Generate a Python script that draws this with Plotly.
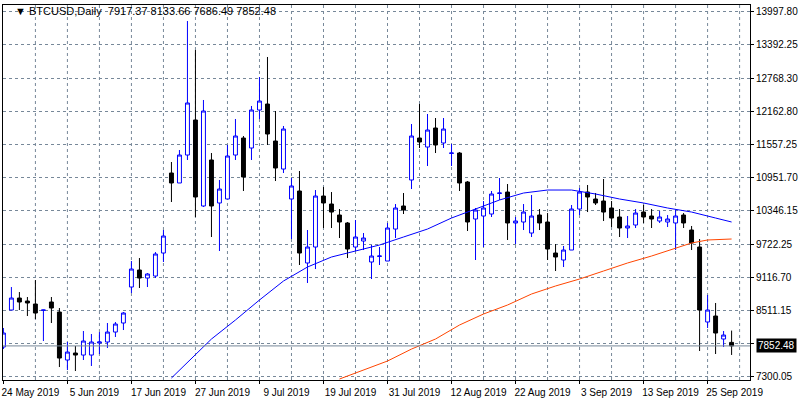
import plotly.graph_objects as go

# daily BTCUSD bars (weekdays only)
bar_idx = list(range(92))
opens = [7832, 8511, 8731, 8676, 8621, 8505, 8658, 8474, 7594, 7722,
         7685, 7685, 7906, 7924, 8107, 8273, 8933, 9245, 9098, 9135,
         9557, 11025, 10842, 11355, 11998, 10420, 11264, 10475, 10548, 11355,
         11667, 11484, 12181, 12291, 11612, 11098, 10548, 10695, 9374, 9667,
         10603, 10456, 10254, 10108, 9667, 9777, 9392, 9495, 9410, 9997,
         10420, 10897, 11667, 11502, 11851, 11576, 11385, 11392, 10860, 10181,
         10236, 10273, 10650, 10676, 10108, 10126, 9924, 10254, 10126, 9557,
         9429, 9612, 10364, 10676, 10548, 10511, 10383, 10218, 10016, 10071,
         10309, 10236, 10144, 10126, 10108, 10254, 9979, 9667, 8291, 8401,
         7979, 7917.37]
highs = [8181, 8933, 8841, 8750, 9062, 8515, 8750, 8548, 7924, 7851,
         8126, 8071, 8107, 8273, 8291, 8474, 9410, 9465, 9190, 9575,
         9979, 11227, 11447, 13814, 13282, 12365, 11392, 10897, 11539, 12016,
         11704, 12255, 12787, 13154, 12163, 11888, 10933, 11062, 9979, 10713,
         10768, 10676, 10364, 10126, 10163, 9924, 9704, 9667, 10108, 10456,
         10658, 11924, 12291, 12108, 12034, 12034, 11557, 11410, 10878, 10383,
         10511, 10695, 10933, 10823, 10218, 10456, 10621, 10364, 10291, 9722,
         9686, 10438, 10750, 10805, 10658, 10915, 10511, 10364, 10236, 10364,
         10438, 10364, 10328, 10254, 10346, 10291, 10053, 9814, 8786, 8640,
         8126, 8133.66]
lows = [7795, 8511, 8511, 8401, 8346, 7942, 8273, 7465, 7410, 7392,
        7594, 7484, 7704, 7814, 8016, 8144, 8823, 8915, 8933, 9098,
        9392, 10493, 10842, 11264, 10218, 10401, 9851, 9594, 10548, 11264,
        10695, 11264, 12016, 11539, 10878, 11025, 9814, 9337, 9007, 9263,
        10016, 10016, 9832, 9465, 9594, 9612, 9080, 9337, 9410, 9832,
        10273, 10731, 11484, 11154, 11392, 11484, 11154, 10695, 9961, 9429,
        9667, 10218, 10530, 9796, 9722, 9979, 9851, 9979, 9429, 9227,
        9300, 9612, 10254, 10309, 10438, 10144, 10034, 9851, 9832, 10016,
        10108, 10016, 10108, 10034, 9612, 10016, 9612, 7759, 8181, 7704,
        7832, 7686.49]
closes = [8089, 8731, 8658, 8640, 8456, 8511, 8548, 7630, 7740, 7685,
          7942, 7924, 7924, 8107, 8254, 8456, 9263, 9098, 9172, 9539,
          9869, 10842, 11355, 12310, 10585, 12163, 10420, 10731, 11337, 11704,
          10952, 12181, 12346, 11741, 11117, 11832, 10787, 9557, 9667, 10603,
          10475, 10309, 10126, 9630, 9851, 9832, 9502, 9502, 10016, 10383,
          10346, 11704, 11594, 11814, 11539, 11832, 11392, 10842, 10126, 10346,
          10383, 10640, 10658, 10108, 10144, 10309, 10236, 10108, 9630, 9484,
          9612, 10364, 10676, 10585, 10475, 10309, 10199, 10016, 10053, 10291,
          10218, 10181, 10218, 10181, 10236, 10108, 9741, 8511, 8511, 8089,
          8052, 7852.48]

# moving averages
ma_fast_idx = [21, 23, 26, 29, 32, 35, 38, 41, 44, 47, 50, 53, 56, 59, 62,
               65, 68, 71, 74, 77, 80, 83, 86, 89, 91]
ma_fast = [7263, 7557, 7979, 8328, 8695, 9043, 9300, 9484, 9594, 9704, 9851,
           9997, 10199, 10364, 10530, 10658, 10713, 10713, 10640, 10548, 10475,
           10383, 10309, 10199, 10126]
ma_slow_idx = [42, 45, 48, 51, 54, 57, 60, 63, 66, 69, 72, 75, 78, 81, 84,
               86, 88, 91]
ma_slow = [7245, 7410, 7575, 7795, 7979, 8236, 8438, 8603, 8805, 8952, 9080,
           9227, 9374, 9502, 9649, 9741, 9796, 9814]

date_pos = [0, 8, 16, 24, 32, 40, 48, 56, 64, 72, 80, 88]
date_text = ["24 May 2019", "5 Jun 2019", "17 Jun 2019", "27 Jun 2019",
             "9 Jul 2019", "19 Jul 2019", "31 Jul 2019", "12 Aug 2019",
             "22 Aug 2019", "3 Sep 2019", "13 Sep 2019", "25 Sep 2019"]
price_ticks = [7300.05, 7905.60, 8511.15, 9116.70, 9722.25, 10346.15,
               10951.70, 11557.25, 12162.80, 12768.30, 13392.25, 13997.80]
price_labels = ["7300.05", "", "8511.15", "9116.70", "9722.25", "10346.15",
                "10951.70", "11557.25", "12162.80", "12768.30", "13392.25",
                "13997.80"]
last_price = 7852.48

font = dict(family="Liberation Sans", size=10, color="black")
grid = dict(color="#778899", width=1, dash="3px,3px")

fig = go.Figure()
fig.add_trace(go.Scatter(x=ma_slow_idx, y=ma_slow, mode="lines",
                         line=dict(color="#ff4500", width=1), hoverinfo="skip"))
fig.add_trace(go.Scatter(x=ma_fast_idx, y=ma_fast, mode="lines",
                         line=dict(color="#0000ff", width=1), hoverinfo="skip"))
fig.add_trace(go.Candlestick(
    x=bar_idx, open=opens, high=highs, low=lows, close=closes,
    increasing=dict(line=dict(color="#0000ff", width=1), fillcolor="white"),
    decreasing=dict(line=dict(color="black", width=1), fillcolor="black"),
    whiskerwidth=0))

# last price line + box
fig.add_hline(y=last_price, line=dict(color="#778899", width=1))
fig.add_annotation(x=1, xref="paper", y=last_price, yref="y", xanchor="left",
                   text=f"{last_price:.2f}", showarrow=False, xshift=6,
                   bgcolor="black", font=dict(family="Liberation Sans", size=10, color="white"),
                   borderpad=1)
fig.add_annotation(x=0, xref="paper", y=1, yref="paper", xanchor="left", yanchor="top",
                   text="▼ BTCUSD,Daily  7917.37 8133.66 7686.49 7852.48",
                   showarrow=False, font=dict(family="Liberation Sans", size=11, color="black"),
                   xshift=10, yshift=2)

fig.update_layout(
    width=800, height=400, margin=dict(l=3, r=50, t=5, b=20),
    paper_bgcolor="white", plot_bgcolor="white", showlegend=False,
    font=font,
    xaxis=dict(range=[-0.05, 93.3], rangeslider=dict(visible=False),
               tickvals=date_pos, ticktext=date_text, tickangle=0,
               ticks="outside", ticklen=3, tickcolor="black", ticklabelshift=27,
               showgrid=False, showline=True, linecolor="black", mirror=True,
               zeroline=False, automargin=False),
    yaxis=dict(range=[7227, 14108], side="right", tickvals=price_ticks,
               ticktext=price_labels, ticks="outside", ticklen=3, tickcolor="black",
               showgrid=True, gridcolor="#778899", griddash="3px,3px", gridwidth=1,
               showline=True, linecolor="black", mirror=True, zeroline=False,
               automargin=False),
)
# vertical grid every 4 bars
for p in range(4, 93, 4):
    fig.add_vline(x=p, line=grid, layer="below")

fig.write_html("out.html", config={"displayModeBar": False},
               post_script="document.body.style.margin='0';")
